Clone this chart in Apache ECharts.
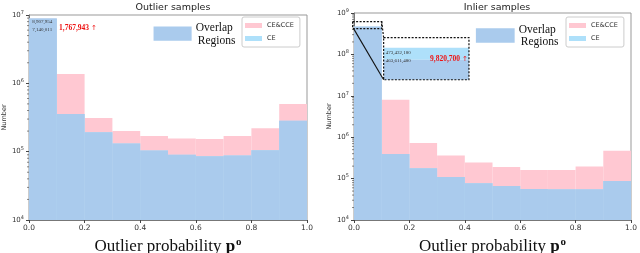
<!DOCTYPE html>
<html><head><meta charset="utf-8">
<script src="https://cdn.jsdelivr.net/npm/echarts@6/dist/echarts.min.js"></script>
<style>html,body{margin:0;padding:0;background:#fff}#c{width:640px;height:253px}</style>
</head><body><div id="c"></div><script>
// ---- data ----
const binStarts = [0.0, 0.1, 0.2, 0.3, 0.4, 0.5, 0.6, 0.7, 0.8, 0.9];
const binEnds   = [0.1, 0.2, 0.3, 0.4, 0.5, 0.6, 0.7, 0.8, 0.9, 1.0];
const outlierCECCE = [8900000, 1370000, 310000, 200000, 169000, 156000, 153000, 169000, 221000, 497000];
const outlierCE    = [8900000, 355000, 192000, 132000, 104000, 90000, 86000, 88000, 105000, 283000];
const inlierCECCE  = [463611480, 8000000, 720000, 360000, 244000, 191000, 162000, 162000, 195000, 470000];
const inlierCE     = [473432180, 395000, 178000, 110000, 77000, 66500, 56000, 55000, 55000, 87000];
const titles = ['Outlier samples', 'Inlier samples'];
const outlierNotes = ['8,907,954', '7,140,011', '1,767,943'];
const inlierNotes = ['473,432,180', '463,611,480', '9,820,700'];
const yMins = [1e4, 1e4];
const yMaxs = [1e7, 1e9];

const PINK = '#ffc8d2', CEC = '#aee0fa', OVL = '#aacbed';
const SERIF = '"Liberation Serif", "DejaVu Serif", serif';
const SANS = '"DejaVu Sans", sans-serif';

function rows(a){ return binStarts.map((s,i)=>[s, binEnds[i], a[i]]); }
function minRows(a,b){ return binStarts.map((s,i)=>[s, binEnds[i], Math.min(a[i], b[i])]); }
function rectItem(color, yMin){
  return function(params, api){
    const p0 = api.coord([api.value(0), api.value(2)]);
    const p1 = api.coord([api.value(1), yMin]);
    return {type:'rect', shape:{x:p0[0], y:p0[1], width:p1[0]-p0[0], height:p1[1]-p0[1]},
            style:{fill: color}};
  };
}
const chart = echarts.init(document.getElementById('c'), null, {renderer:'canvas'});
const grids = [
  {left:29, right:333, top:15, bottom:33},
  {left:354, right:9, top:13, bottom:33}
];
function xAxis(i){
  return {type:'value', gridIndex:i, min:0, max:1, interval:0.2,
    axisLine:{show:true, lineStyle:{color:'#777', width:1}},
    axisTick:{show:true, length:3, lineStyle:{color:'#444'}},
    splitLine:{show:false},
    axisLabel:{fontSize:7.5, fontFamily:SANS, color:'#333', margin:4, formatter:v=>v.toFixed(1)},
    name:'Outlier probability {b|p}{s|o}', nameLocation:'middle', nameGap:14,
    nameTextStyle:{fontSize:17, fontFamily:SERIF, color:'#111',
      rich:{b:{fontSize:17, fontWeight:'bold', fontFamily:SERIF, color:'#111'},
            s:{fontSize:11, fontWeight:'bold', fontFamily:SERIF, color:'#111', padding:[0,0,9,1]}}}
  };
}
function yAxis(i){
  return {type:'log', gridIndex:i, logBase:10, min:yMins[i], max:yMaxs[i], interval:1,
    axisLine:{show:true, lineStyle:{color:'#777', width:1}},
    axisTick:{show:true, length:3, lineStyle:{color:'#444'}},
    splitLine:{show:false},
    axisLabel:{fontSize:7, fontFamily:SANS, color:'#333', margin:5,
      formatter:v=>'10{s|'+Math.round(Math.log10(v))+'}',
      rich:{s:{fontSize:5, fontFamily:SANS, color:'#333', padding:[0,0,5,0]}}},
    name:'Number', nameLocation:'middle', nameRotate:90, nameGap:20,
    nameTextStyle:{fontSize:6.5, fontFamily:SANS, color:'#333'}
  };
}
const sets = [[outlierCECCE, outlierCE],[inlierCECCE, inlierCE]];
const series = [];
sets.forEach((s,i)=>{
  series.push({type:'custom', name:'CE&CCE', xAxisIndex:i, yAxisIndex:i, clip:true,
    renderItem:rectItem(PINK, yMins[i]), encode:{x:[0,1], y:2}, data:rows(s[0]), itemStyle:{color:PINK}});
  series.push({type:'custom', name:'CE', xAxisIndex:i, yAxisIndex:i, clip:true,
    renderItem:rectItem(CEC, yMins[i]), encode:{x:[0,1], y:2}, data:rows(s[1]), itemStyle:{color:CEC}});
  series.push({type:'custom', name:'Overlap', xAxisIndex:i, yAxisIndex:i, clip:true,
    renderItem:rectItem(OVL, yMins[i]), encode:{x:[0,1], y:2}, data:minRows(s[0], s[1]), itemStyle:{color:OVL}});
});
const legendBase = {orient:'vertical', data:['CE&CCE','CE'], icon:'rect', itemWidth:17, itemHeight:5,
  itemGap:6, padding:[5,6,5,3], borderColor:'#ccc', borderWidth:1, borderRadius:2,
  textStyle:{fontSize:6.5, fontFamily:SANS, color:'#333'}, selectedMode:false};
chart.setOption({
  animation:false,
  backgroundColor:'#fff',
  grid: grids.map(g=>Object.assign({show:true, borderColor:'#999', borderWidth:1, backgroundColor:'transparent',
    containLabel:false, outerBoundsMode:'none'}, g)),
  title: [
    {text:titles[0], left:168, top:-2, textAlign:'center', textStyle:{fontSize:9.5, fontWeight:'normal', fontFamily:SANS, color:'#222'}},
    {text:titles[1], left:492, top:-2, textAlign:'center', textStyle:{fontSize:9.5, fontWeight:'normal', fontFamily:SANS, color:'#222'}}
  ],
  legend: [Object.assign({left:242, top:17}, legendBase), Object.assign({left:566, top:17}, legendBase)],
  xAxis:[xAxis(0), xAxis(1)],
  yAxis:[yAxis(0), yAxis(1)],
  series: series
});

// ---- annotations anchored to data coords ----
function P(g, x, y){ return chart.convertToPixel({gridIndex:g}, [x, y]); }
const G = [];
function txt(p, s, opt){
  G.push({type:'text', x:p[0], y:p[1], z:100, style:Object.assign({text:s, fontFamily:SERIF, fontSize:5, fill:'#333', verticalAlign:'middle', align:'left'}, opt||{})});
}
const redRich = {a:{fontFamily:'"DejaVu Sans", sans-serif', fontSize:7, fill:'#ee1111', fontWeight:'normal'}};
// minor ticks on log axes
[0,1].forEach(g=>{
  const lo = Math.log10(yMins[g]), hi = Math.log10(yMaxs[g]);
  for(let e=lo; e<hi; e++){
    for(let m=2; m<=9; m++){
      const p = P(g, 0, m*Math.pow(10,e));
      G.push({type:'line', z:50, shape:{x1:p[0]-2, y1:p[1], x2:p[0], y2:p[1]}, style:{stroke:'#555', lineWidth:0.7}});
    }
  }
});
// left
txt(P(0, 0.012, 7.85e6), outlierNotes[0]);
txt(P(0, 0.012, 6.0e6), outlierNotes[1]);
txt(P(0, 0.108, 6.4e6), '', {rich:redRich, text:outlierNotes[2]+' {a|\u2191}', fontSize:7.5, fontWeight:'bold', fill:'#ee1111'});
// overlap legend patches
function overlapPatch(g, x0, y0, x1, y1, tx, ty1, ty2){
  const a = P(g, x0, y0), b = P(g, x1, y1);
  G.push({type:'rect', z:100, shape:{x:a[0], y:a[1], width:b[0]-a[0], height:b[1]-a[1]}, style:{fill:OVL}});
  const t1 = P(g, tx, ty1), t2 = P(g, tx, ty2);
  txt([t1[0], t1[1]], 'Overlap', {fontSize:11.5, fill:'#111'});
  txt([t2[0]+2, t2[1]], 'Regions', {fontSize:11.5, fill:'#111'});
}
overlapPatch(0, 0.448, 6.8e6, 0.585, 4.2e6, 0.6, 6.5e6, 4.2e6);
overlapPatch(1, 0.44, 4.3e8, 0.58, 1.9e8, 0.595, 3.9e8, 2.0e8);
// right inset
const sA = P(1, -0.005, 6.2e8), sB = P(1, 0.1, 4.2e8);
G.push({type:'rect', z:101, shape:{x:sA[0], y:sA[1], width:sB[0]-sA[0], height:sB[1]-sA[1]},
  style:{fill:'none', stroke:'#111', lineWidth:1.2, lineDash:[2,1.5]}});
const bA = P(1, 0.107, 2.54e8), bB = P(1, 0.415, 2.44e7);
const cTop = P(1, 0.107, 1.45e8)[1], oTop = P(1, 0.107, 7.43e7)[1];
G.push({type:'rect', z:100, shape:{x:bA[0], y:bA[1], width:bB[0]-bA[0], height:bB[1]-bA[1]}, style:{fill:'#fff'}});
G.push({type:'rect', z:100, shape:{x:bA[0], y:cTop, width:bB[0]-bA[0], height:oTop-cTop}, style:{fill:CEC}});
G.push({type:'rect', z:100, shape:{x:bA[0], y:oTop, width:bB[0]-bA[0], height:bB[1]-oTop}, style:{fill:OVL}});
G.push({type:'rect', z:101, shape:{x:bA[0], y:bA[1], width:bB[0]-bA[0], height:bB[1]-bA[1]},
  style:{fill:'none', stroke:'#111', lineWidth:1.2, lineDash:[2,1.5]}});
G.push({type:'line', z:101, shape:{x1:sB[0], y1:sA[1], x2:bA[0], y2:bA[1]}, style:{stroke:'#111', lineWidth:1.2, lineDash:[2,1.5]}});
G.push({type:'line', z:101, shape:{x1:sA[0]+1, y1:sB[1], x2:bA[0], y2:bB[1]}, style:{stroke:'#111', lineWidth:1.1}});
txt(P(1, 0.115, 1.1e8), inlierNotes[0]);
txt(P(1, 0.115, 7.0e7), inlierNotes[1]);
txt(P(1, 0.411, 7.85e7), '', {rich:redRich, text:inlierNotes[2]+' {a|\u2191}', fontSize:7.5, fontWeight:'bold', fill:'#ee1111', align:'right'});
chart.setOption({graphic: G});
</script></body></html>
